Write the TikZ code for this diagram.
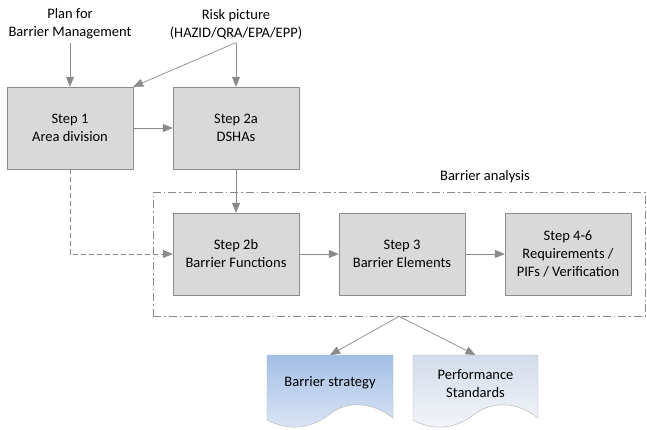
\documentclass[tikz,border=0pt]{standalone}
\usepackage{fontspec}
\setmainfont{Carlito}
\usetikzlibrary{arrows.meta}
\definecolor{boxfill}{HTML}{D9D9D9}
\definecolor{boxline}{HTML}{8C8C8C}
\definecolor{arrowgray}{HTML}{8A8A8A}
\definecolor{stratTop}{HTML}{A3BFE6}
\definecolor{stratBot}{HTML}{DDE7F5}
\definecolor{perfTop}{HTML}{D3DCEA}
\definecolor{perfBot}{HTML}{F4F6FA}
\tikzset{
  stepbox/.style={draw=boxline, fill=boxfill, minimum width=126pt, minimum height=82pt, align=center, font=\fontsize{14.5}{18}\selectfont},
  plain/.style={align=center, font=\fontsize{14.5}{18}\selectfont},
  doctext/.style={align=center, minimum width=126pt, minimum height=56pt, font=\fontsize{14.5}{18}\selectfont},
  conn/.style={draw=arrowgray, line width=0.7pt},
  >={Triangle[length=10pt,width=8pt]},
}
\begin{document}
\begin{tikzpicture}[x=1pt, y=-1pt, node distance=166pt]
\useasboundingbox (0,0) rectangle (647,429);
\node (plan) [plain] at (70,24) {Plan for\\Barrier Management};
\node (risk) [plain] at (236,24) {Risk picture\\(HAZID/QRA/EPA/EPP)};
\node (s1) [stepbox] at (70,128) {Step 1\\Area division};
\node (s2a) [stepbox, right of=s1] {Step 2a\\DSHAs};
\node (s2b) [stepbox, node distance=126pt, below of=s2a] {Step 2b\\Barrier Functions};
\node (s3) [stepbox, right of=s2b] {Step 3\\Barrier Elements};
\node (s46) [stepbox, right of=s3] {Step 4-6\\Requirements /\\PIFs / Verification};
% barrier analysis frame
\node (ba) [draw=arrowgray, line width=0.7pt, dash pattern=on 8pt off 3pt on 1.5pt off 3pt, minimum width=492pt, minimum height=124pt] at (399,254) {};
\node (balabel) [plain] at (485,177) {Barrier analysis};
% documents
\path[draw=boxline!70, top color=stratTop, bottom color=stratBot] (267,355) -- (393,355) -- (393,418)
  .. controls (370,400) and (345,402) .. (330,414) .. controls (312,428) and (290,432) .. (267,420) -- cycle;
\path[draw=boxline!70, top color=perfTop, bottom color=perfBot] (413,355) -- (538,355) -- (538,418)
  .. controls (515,400) and (490,402) .. (475,414) .. controls (457,428) and (435,432) .. (413,420) -- cycle;
\node (bs) [doctext, anchor=north] at (330,355) {Barrier strategy};
\node (ps) [doctext, anchor=north] at (475.5,355) {Performance\\Standards};
% connectors
\draw[conn, ->] (plan) to (s1);
\draw[conn, ->] (risk) to (s2a);
\draw[conn, ->] (risk.south) to (s1.north east);
\draw[conn, ->] (s1) to (s2a);
\draw[conn, ->] (s2a) to (s2b);
\draw[conn, ->, dash pattern=on 5pt off 3pt] (s1) |- (s2b);
\draw[conn, ->] (s2b) to (s3);
\draw[conn, ->] (s3) to (s46);
\draw[conn, ->] (ba.south) to (bs.north);
\draw[conn, ->] (ba.south) to (ps.north);
\end{tikzpicture}
\end{document}
